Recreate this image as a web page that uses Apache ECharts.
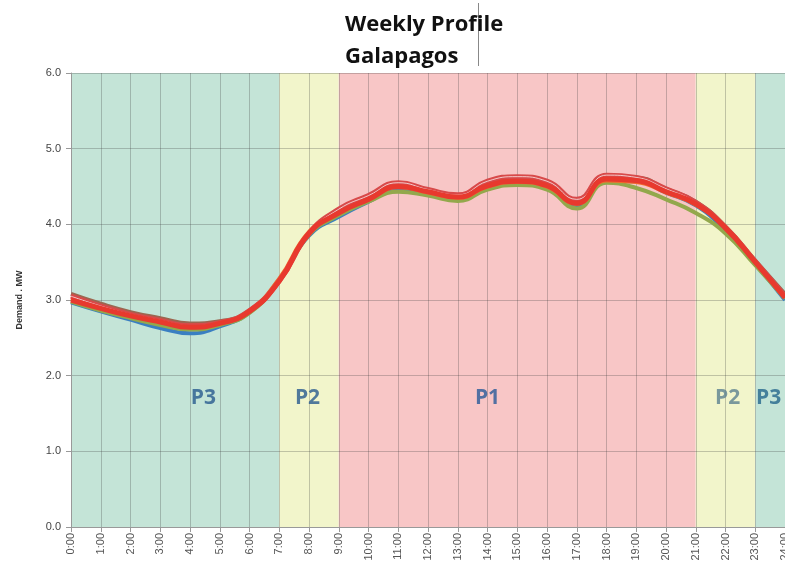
<!DOCTYPE html>
<html><head><meta charset="utf-8">
<script src="https://cdn.jsdelivr.net/npm/echarts@6/dist/echarts.min.js"></script>
<style>html,body{margin:0;padding:0;background:#fff}#c{width:785px;height:563px}</style>
</head><body><div id="c"></div>
<script>
// hours 0..24
const hours = [0,1,2,3,4,5,6,7,8,9,10,11,12,13,14,15,16,17,18,19,20,21,22,23,24];
const yTicks = [0,1,2,3,4,5,6];
const seriesBlue   = [2.97,2.85,2.74,2.63,2.56,2.65,2.84,3.27,3.85,4.10,4.30,4.47,4.42,4.35,4.50,4.55,4.50,4.25,4.57,4.57,4.42,4.25,3.92,3.48,3.00];
const seriesGreen  = [2.98,2.86,2.76,2.67,2.61,2.67,2.83,3.26,3.86,4.12,4.30,4.43,4.38,4.31,4.46,4.52,4.46,4.21,4.55,4.48,4.33,4.15,3.88,3.46,3.02];
const seriesBrown  = [3.08,2.95,2.84,2.76,2.69,2.72,2.86,3.26,3.88,4.17,4.36,4.52,4.45,4.38,4.55,4.60,4.55,4.30,4.63,4.62,4.47,4.30,3.97,3.52,3.08];
const seriesOrange = [3.02,2.90,2.80,2.72,2.66,2.70,2.86,3.28,3.90,4.16,4.33,4.49,4.42,4.35,4.50,4.56,4.50,4.27,4.58,4.56,4.42,4.26,3.96,3.50,3.04];
const seriesRed    = [3.00,2.89,2.79,2.71,2.64,2.69,2.85,3.25,3.88,4.15,4.33,4.50,4.43,4.36,4.51,4.57,4.51,4.28,4.60,4.58,4.43,4.27,3.95,3.50,3.03];
const seriesTop    = [3.05,2.92,2.81,2.73,2.66,2.70,2.86,3.25,3.88,4.20,4.38,4.55,4.46,4.39,4.57,4.63,4.57,4.33,4.65,4.62,4.47,4.29,3.96,3.51,3.05];
// tariff periods [start, end, name]
const periodBands = [[0,7,'P3'],[7,9,'P2'],[9,21,'P1'],[21,23,'P2'],[23,24,'P3']];
const bandColors = {P1:'#f8c6c6', P2:'#f2f5cb', P3:'#c4e4d7'};
// period labels: [hour, value, text]
const periodLabels = [[4.45,1.70,'P3'],[7.95,1.70,'P2'],[14.0,1.70,'P1'],[22.07,1.70,'P2'],[23.45,1.70,'P3']];
const labelColors = ['#285a8e','#285a8e','#285a98','#5b8190','#24668c'];

const chart = echarts.init(document.getElementById('c'));
function mk(data, color, width, z, opacity){
  return {type:'line', data: hours.map((h,i)=>[h,data[i]]), smooth:true, symbol:'none', z:z,
    lineStyle:{color:color, width:width, opacity: opacity==null?1:opacity}, silent:true};
}
chart.setOption({
  animation:false,
  title:{text:'Weekly Profile\nGalapagos', left:340, top:4,
    textStyle:{fontFamily:'Open Sans', fontWeight:'bold', fontSize:22, lineHeight:32, color:'#111'}},
  grid:{left:71, right:0, top:73, bottom:36, outerBoundsMode:'none', containLabel:false},
  xAxis:{type:'value', min:0, max:24, interval:1, z:3,
    axisLine:{lineStyle:{color:'#999'}},
    axisTick:{show:true, length:5, lineStyle:{color:'#999'}},
    axisLabel:{rotate:90, fontSize:11, color:'#555', fontFamily:'Liberation Sans', margin:6,
      formatter:v=>v+':00'},
    splitLine:{show:true, lineStyle:{color:'rgba(60,60,60,0.28)', width:1}}},
  yAxis:{type:'value', min:0, max:6, interval:1, z:3,
    name:'Demand . MW', nameLocation:'middle', nameGap:47, nameRotate:90,
    nameTextStyle:{fontSize:9, fontWeight:'bold', color:'#333', fontFamily:'Liberation Sans'},
    axisLine:{show:true, lineStyle:{color:'#999'}},
    axisTick:{show:true, length:5, lineStyle:{color:'#999'}},
    axisLabel:{fontSize:11, color:'#444', fontFamily:'Liberation Sans', margin:10,
      formatter:v=>v.toFixed(1)},
    splitLine:{show:true, lineStyle:{color:'rgba(60,60,60,0.28)', width:1}}},
  graphic:[{type:'line', shape:{x1:478.5,y1:3,x2:478.5,y2:66}, style:{stroke:'#888', lineWidth:1}}],
  series:[
    {type:'line', data:[], z:1, silent:true,
      markArea:{silent:true, data: periodBands.map(b=>[{xAxis:b[0], itemStyle:{color:bandColors[b[2]]}},{xAxis:b[1]}])}},
    mk(seriesBlue,'#3a7fc2',4,5),
    mk(seriesGreen,'#93a84c',4,5),
    mk(seriesBrown,'#9c6650',4,5),
    mk(seriesOrange,'#f26a2c',4,6),
    mk(seriesTop,'#d84a4a',5,6),
    mk(seriesTop,'#ffffff',1,7,0.7),
    mk(seriesRed,'#e8392e',5,8),
    {type:'scatter', z:9, symbolSize:0, silent:true,
      data: periodLabels.map((p,i)=>({value:[p[0],p[1]], label:{show:true, position:'inside', formatter:p[2],
        color:labelColors[i], fontSize:21, fontWeight:'bold', fontFamily:'Open Sans'}}))}
  ]
});
</script></body></html>
